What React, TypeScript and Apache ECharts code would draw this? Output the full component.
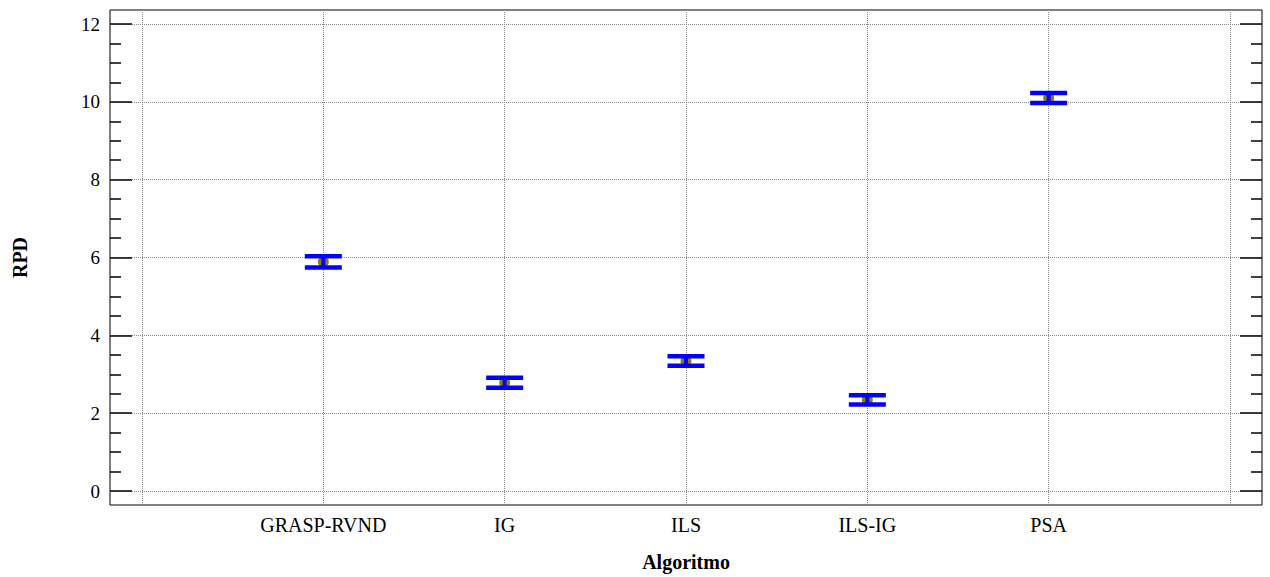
import React, { useEffect, useRef } from "react";
import * as echarts from "echarts";

const categories = ["GRASP-RVND", "IG", "ILS", "ILS-IG", "PSA"];
const means = [5.89, 2.78, 3.34, 2.34, 10.1];
const lowers = [5.74, 2.65, 3.22, 2.22, 9.97];
const uppers = [6.03, 2.91, 3.46, 2.46, 10.23];
const yTickValues = [0, 2, 4, 6, 8, 10, 12];

const FONT = "Liberation Serif";
const grid = { type: "dotted" as const, color: "#8c8c8c", width: 1 };

export default function App() {
  const ref = useRef<HTMLDivElement>(null);
  useEffect(() => {
    document.body.style.margin = "0";
    const chart = echarts.init(ref.current!, null, { renderer: "svg" });
    const data = categories.map((c, i) => [i + 1, lowers[i], uppers[i], means[i]]);
    const yMin = yTickValues[0];
    const yMax = yTickValues[yTickValues.length - 1];
    const yTickCommon = {
      type: "value",
      min: yMin,
      max: yMax,
      interval: 2,
      axisLine: { show: false },
      axisTick: { show: true, inside: true, length: 22, lineStyle: { color: "#000", width: 1.5 } },
      minorTick: { show: true, splitNumber: 4, length: 11, lineStyle: { color: "#000", width: 1.5 } },
    };
    chart.setOption({
      animation: false,
      backgroundColor: "#fff",
      grid: [
        { left: 110, top: 10, width: 1152, height: 495, show: true, borderColor: "#000", borderWidth: 1, backgroundColor: "transparent" },
        { left: 110, top: 24, width: 1152, height: 467 },
        { left: 142, top: 10, width: 1088, height: 495 },
        { left: 142, top: 24, width: 1088, height: 467 },
      ],
      xAxis: [
        { gridIndex: 0, type: "value", show: false, min: 0, max: 1 },
        { gridIndex: 1, type: "value", show: false, min: 0, max: 1 },
        {
          gridIndex: 2,
          type: "value",
          min: 0,
          max: 6,
          interval: 1,
          axisLine: { show: false },
          axisTick: { show: false },
          axisLabel: {
            fontFamily: FONT,
            fontSize: 20,
            color: "#000",
            margin: 10,
            formatter: (v: number) => categories[Math.round(v) - 1] ?? "",
          },
          splitLine: { show: true, lineStyle: grid },
          name: "Algoritmo",
          nameLocation: "middle",
          nameGap: 47,
          nameTextStyle: { fontFamily: FONT, fontSize: 20, fontWeight: "bold", color: "#000" },
        },
        { gridIndex: 3, type: "value", show: false, min: 0, max: 6 },
      ],
      yAxis: [
        { gridIndex: 0, type: "value", show: false, min: 0, max: 1 },
        {
          ...yTickCommon,
          gridIndex: 1,
          position: "left",
          axisLabel: { fontFamily: FONT, fontSize: 19, color: "#000", margin: 10 },
          splitLine: { show: true, lineStyle: grid },
          name: "RPD",
          nameLocation: "middle",
          nameGap: 80,
          nameTextStyle: { fontFamily: FONT, fontSize: 20, fontWeight: "bold", color: "#000" },
        },
        {
          ...yTickCommon,
          gridIndex: 1,
          position: "right",
          axisLabel: { show: false },
          splitLine: { show: false },
        },
        { gridIndex: 2, type: "value", show: false, min: 0, max: 1 },
        { gridIndex: 3, type: "value", show: false, min: yMin, max: yMax },
      ],
      series: [
        {
          type: "custom",
          xAxisIndex: 3,
          yAxisIndex: 4,
          data,
          encode: { x: 0, y: [1, 2, 3] },
          renderItem: (params: any, api: any) => {
            const x = api.value(0);
            const lo = api.coord([x, api.value(1)]);
            const hi = api.coord([x, api.value(2)]);
            const m = api.coord([x, api.value(3)]);
            const blue = { fill: "#0000ff" };
            return {
              type: "group",
              children: [
                { type: "circle", shape: { cx: m[0], cy: m[1], r: 5.5 }, style: { fill: "#8a7d0a" } },
                { type: "rect", shape: { x: hi[0] - 2, y: hi[1], width: 4, height: lo[1] - hi[1] }, style: blue },
                { type: "rect", shape: { x: hi[0] - 18.5, y: hi[1] - 2.25, width: 37, height: 4.5 }, style: blue },
                { type: "rect", shape: { x: lo[0] - 18.5, y: lo[1] - 2.25, width: 37, height: 4.5 }, style: blue },
              ],
            };
          },
        },
      ],
    });
    return () => chart.dispose();
  }, []);
  return <div ref={ref} style={{ width: 1270, height: 577 }} />;
}
